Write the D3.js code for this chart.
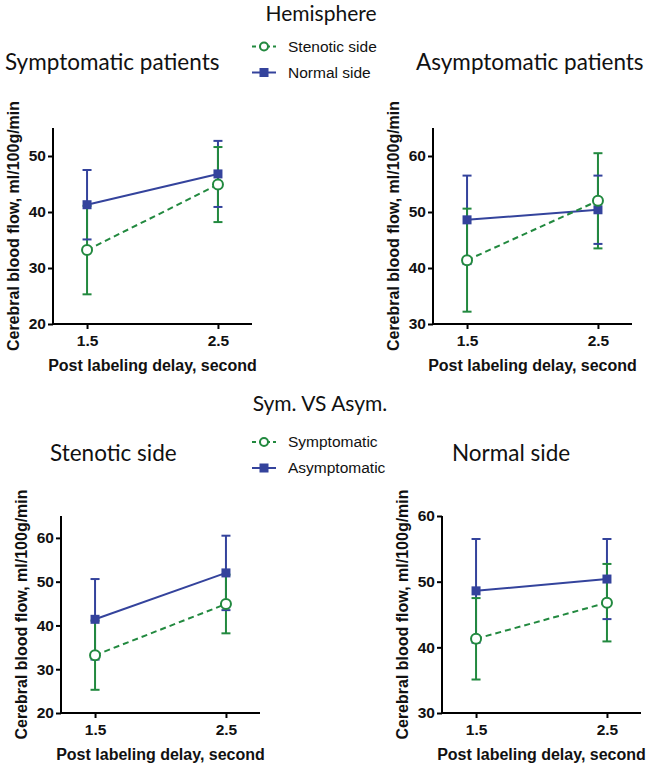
<!DOCTYPE html>
<html><head><meta charset="utf-8">
<script src="https://cdn.jsdelivr.net/npm/d3@7"></script>
<style>
html,body{margin:0;padding:0;background:#fff;}
svg{display:block;}
</style>
</head><body>
<script>
// ---------- data ----------
const delays = [1.5, 2.5];
const delayTickLabels = ["1.5", "2.5"];
const groupTitles = ["Hemisphere", "Sym. VS Asym."];
const panelTitles = ["Symptomatic patients", "Asymptomatic patients", "Stenotic side", "Normal side"];
const hemisphereLegend = ["Stenotic side", "Normal side"];
const groupLegend = ["Symptomatic", "Asymptomatic"];
const xAxisTitle = "Post labeling delay, second";
const yAxisTitle = "Cerebral blood flow, ml/100g/min";

// Symptomatic patients
const symStenoticMean = [33.2, 44.9];
const symStenoticSD   = [7.9, 6.7];
const symNormalMean   = [41.3, 46.8];
const symNormalSD     = [6.2, 5.9];
// Asymptomatic patients
const asymStenoticMean = [41.4, 52.0];
const asymStenoticSD   = [9.2, 8.5];
const asymNormalMean   = [48.6, 50.4];
const asymNormalSD     = [7.9, 6.1];

// y axis ticks per panel
const yTicksP1 = [20, 30, 40, 50];
const yTicksP2 = [30, 40, 50, 60];
const yTicksP3 = [20, 30, 40, 50, 60];
const yTicksP4 = [30, 40, 50, 60];
const yDomainP1 = [20, 55];
const yDomainP2 = [30, 65];
const yDomainP3 = [20, 65];
const yDomainP4 = [30, 60];

// ---------- style ----------
const GREEN = "#22893f";
const BLUE = "#34439c";
const W = 649, H = 765;
const SANS = "'Liberation Sans', Arial, sans-serif";

const svg = d3.select("body").append("svg").attr("width", W).attr("height", H)
  .attr("font-family", SANS);

const titleFont = "Lato, 'Open Sans', sans-serif";

const panels = [
  {title: panelTitles[0], left: 53, top: 128, bottom: 324, ticks: yTicksP1, domain: yDomainP1,
   green: {mean: symStenoticMean, sd: symStenoticSD}, blue: {mean: symNormalMean, sd: symNormalSD},
   titleX: 5, titleY: 70},
  {title: panelTitles[1], left: 433, top: 128, bottom: 324, ticks: yTicksP2, domain: yDomainP2,
   green: {mean: asymStenoticMean, sd: asymStenoticSD}, blue: {mean: asymNormalMean, sd: asymNormalSD},
   titleX: 416, titleY: 70},
  {title: panelTitles[2], left: 61, top: 516, bottom: 713, ticks: yTicksP3, domain: yDomainP3,
   green: {mean: symStenoticMean, sd: symStenoticSD}, blue: {mean: asymStenoticMean, sd: asymStenoticSD},
   titleX: 50, titleY: 461},
  {title: panelTitles[3], left: 442, top: 516, bottom: 713, ticks: yTicksP4, domain: yDomainP4,
   green: {mean: symNormalMean, sd: symNormalSD}, blue: {mean: asymNormalMean, sd: asymNormalSD},
   titleX: 452, titleY: 461},
];

function drawPanel(p) {
  const g = svg.append("g");
  const x = d3.scaleLinear().domain([1.24, 2.76]).range([p.left, p.left + 199]);
  const y = d3.scaleLinear().domain(p.domain).range([p.bottom, p.top]);

  // title
  svg.append("text").attr("x", p.titleX).attr("y", p.titleY)
    .attr("font-family", titleFont).attr("font-size", 22.5).attr("fill", "#111")
    .text(p.title);

  // y axis
  const yAx = g.append("g").attr("transform", `translate(${p.left},0)`)
    .call(d3.axisLeft(y).tickValues(p.ticks).tickSize(5).tickPadding(2).tickSizeOuter(0));
  yAx.select(".domain").attr("stroke", "#000").attr("stroke-width", 2)
     .attr("d", `M0,${y(p.domain[1])}V${p.bottom + 1}`);
  yAx.selectAll(".tick line").attr("stroke", "#000").attr("stroke-width", 2);
  yAx.selectAll(".tick text").attr("font-size", 15.5).attr("font-weight", "bold").attr("fill", "#111")
     .attr("font-family", SANS);

  // x axis
  const xAx = g.append("g").attr("transform", `translate(0,${p.bottom})`)
    .call(d3.axisBottom(x).tickValues(delays).tickFormat((d, i) => delayTickLabels[i])
      .tickSize(5).tickPadding(6).tickSizeOuter(0));
  xAx.select(".domain").attr("stroke", "#000").attr("stroke-width", 2)
     .attr("d", `M${p.left - 1},0H${x.range()[1]}`);
  xAx.selectAll(".tick line").attr("stroke", "#000").attr("stroke-width", 2);
  xAx.selectAll(".tick text").attr("font-size", 15.5).attr("font-weight", "bold").attr("fill", "#111")
     .attr("font-family", SANS);

  // axis titles
  g.append("text").attr("x", (p.left + x.range()[1]) / 2).attr("y", p.bottom + 47)
    .attr("text-anchor", "middle").attr("font-size", 16).attr("font-weight", "bold").attr("fill", "#111")
    .text(xAxisTitle);
  g.append("text")
    .attr("transform", `translate(${p.left - 40},${(p.top + p.bottom) / 2}) rotate(-90)`)
    .attr("text-anchor", "middle").attr("dy", "0.35em")
    .attr("font-size", 16).attr("font-weight", "bold").attr("fill", "#111")
    .text(yAxisTitle);

  const series = [
    {d: p.blue, color: BLUE, dash: null, marker: "square"},
    {d: p.green, color: GREEN, dash: "6,4", marker: "circle"},
  ];
  const capW = 4.5;
  series.forEach(s => {
    delays.forEach((t, i) => {
      g.append("line").attr("x1", x(t)).attr("x2", x(t))
        .attr("y1", y(s.d.mean[i] - s.d.sd[i])).attr("y2", y(s.d.mean[i] + s.d.sd[i]))
        .attr("stroke", s.color).attr("stroke-width", 2);
    });
  });
  series.forEach(s => {
    delays.forEach((t, i) => {
      [s.d.mean[i] - s.d.sd[i], s.d.mean[i] + s.d.sd[i]].forEach(v => {
        g.append("line").attr("x1", x(t) - capW).attr("x2", x(t) + capW)
          .attr("y1", y(v)).attr("y2", y(v))
          .attr("stroke", s.color).attr("stroke-width", 2);
      });
    });
  });
  series.forEach(s => {
    const line = d3.line().x((d, i) => x(delays[i])).y(d => y(d));
    g.append("path").datum(s.d.mean).attr("d", line).attr("fill", "none")
      .attr("stroke", s.color).attr("stroke-width", 2)
      .attr("stroke-dasharray", s.dash);
  });
  series.forEach(s => {
    delays.forEach((t, i) => {
      if (s.marker === "square") {
        g.append("rect").attr("x", x(t) - 4.5).attr("y", y(s.d.mean[i]) - 4.5)
          .attr("width", 9).attr("height", 9).attr("fill", s.color);
      } else {
        g.append("circle").attr("cx", x(t)).attr("cy", y(s.d.mean[i])).attr("r", 5)
          .attr("fill", "#fff").attr("stroke", s.color).attr("stroke-width", 2);
      }
    });
  });
}
panels.forEach(drawPanel);

// group titles
svg.append("text").attr("x", 321).attr("y", 21).attr("text-anchor", "middle")
  .attr("font-family", titleFont).attr("font-size", 21).attr("fill", "#111").text(groupTitles[0]);
svg.append("text").attr("x", 320).attr("y", 411).attr("text-anchor", "middle")
  .attr("font-family", titleFont).attr("font-size", 21).attr("fill", "#111").text(groupTitles[1]);

// legends
function legend(y0, labels) {
  const items = [
    {label: labels[0], color: GREEN, dash: "4,3", marker: "circle"},
    {label: labels[1], color: BLUE, dash: null, marker: "square"},
  ];
  items.forEach((it, i) => {
    const cy = y0 + i * 26;
    svg.append("line").attr("x1", 252).attr("x2", 276).attr("y1", cy).attr("y2", cy)
      .attr("stroke", it.color).attr("stroke-width", 2).attr("stroke-dasharray", it.dash);
    if (it.marker === "circle") {
      svg.append("circle").attr("cx", 264).attr("cy", cy).attr("r", 4)
        .attr("fill", "#fff").attr("stroke", it.color).attr("stroke-width", 2);
    } else {
      svg.append("rect").attr("x", 259.5).attr("y", cy - 4.5).attr("width", 9).attr("height", 9)
        .attr("fill", it.color);
    }
    svg.append("text").attr("x", 288).attr("y", cy).attr("dy", "0.35em")
      .attr("font-size", 15.5).attr("fill", "#111").text(it.label);
  });
}
legend(46.5, hemisphereLegend);
legend(442, groupLegend);
</script>
</body></html>
